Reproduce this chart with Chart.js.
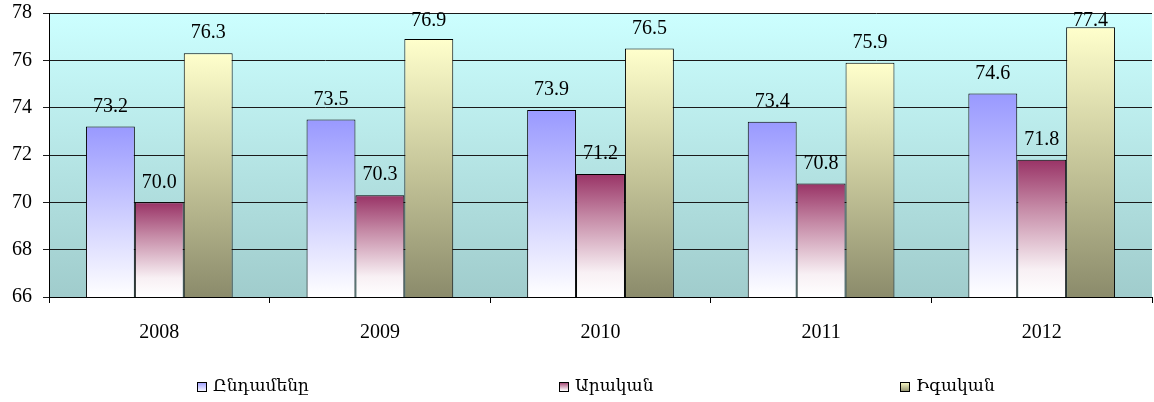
<!DOCTYPE html>
<html>
<head>
<meta charset="utf-8">
<script src="https://cdn.jsdelivr.net/npm/chart.js@4"></script>
<style>
  html, body { margin: 0; padding: 0; background: #fff; }
  #wrap { width: 1154px; height: 402px; }
</style>
</head>
<body>
<div id="wrap"><canvas id="myChart" width="1154" height="402"></canvas></div>
<script>
const years = ['2008', '2009', '2010', '2011', '2012'];
const totalValues = [73.2, 73.5, 73.9, 73.4, 74.6];
const maleValues = [70.0, 70.3, 71.2, 70.8, 71.8];
const femaleValues = [76.3, 76.9, 76.5, 75.9, 77.4];
const seriesNames = ['Ընդամենը', 'Արական', 'Իգական'];
const yTicks = [66, 68, 70, 72, 74, 76, 78];

const serif = "'Liberation Serif', 'Times New Roman', serif";
const armFont = "'Liberation Serif', 'DejaVu Serif', serif";

// top -> bottom colour stops for each series
const stops = [
    [[0, '#9999ff'], [1, '#ffffff']],
    [[0, '#993366'], [0.35, '#c58aa6'], [0.8, '#f8f0f4'], [1, '#ffffff']],
    [[0, '#ffffcc'], [0.5, '#c6c69a'], [1, '#8b8b6b']],
];

function barGradient(i) {
    return function (ctx) {
        const chart = ctx.chart;
        if (!chart.chartArea || ctx.raw === undefined) return stops[i][0][1];
        const ys = chart.scales.y;
        const t = ys.getPixelForValue(ctx.raw);
        const b = ys.getPixelForValue(ys.min);
        const g = chart.ctx.createLinearGradient(0, t, 0, b);
        stops[i].forEach(s => g.addColorStop(s[0], s[1]));
        return g;
    };
}

const plotBackground = {
    id: 'plotBackground',
    beforeDraw(chart) {
        const a = chart.chartArea;
        const c = chart.ctx;
        const g = c.createLinearGradient(0, a.top, 0, a.bottom);
        g.addColorStop(0, '#ccffff');
        g.addColorStop(1, '#a0cccc');
        c.save();
        c.fillStyle = g;
        c.fillRect(a.left, a.top, a.right - a.left, a.bottom - a.top);
        c.restore();
    }
};

const valueLabels = {
    id: 'valueLabels',
    afterDatasetsDraw(chart) {
        const c = chart.ctx;
        const a = chart.chartArea;
        c.save();
        c.font = '20px ' + serif;
        c.fillStyle = '#000';
        c.textAlign = 'center';
        c.textBaseline = 'middle';
        chart.data.datasets.forEach((ds, i) => {
            chart.getDatasetMeta(i).data.forEach((bar, j) => {
                const y = Math.max(bar.y - 20, a.top + 8);
                c.fillText(ds.data[j].toFixed(1), bar.x, y);
            });
        });
        c.restore();
    }
};

const bottomLegend = {
    id: 'bottomLegend',
    afterDraw(chart) {
        const c = chart.ctx;
        const xs = [197, 559, 900];
        const y = 387;
        c.save();
        c.font = '17px ' + armFont;
        c.textBaseline = 'middle';
        c.textAlign = 'left';
        chart.data.datasets.forEach((ds, i) => {
            const x = xs[i];
            const g = c.createLinearGradient(0, y - 5, 0, y + 5);
            stops[i].forEach(s => g.addColorStop(s[0], s[1]));
            c.fillStyle = g;
            c.fillRect(x, y - 5, 10, 10);
            c.strokeStyle = '#000';
            c.lineWidth = 1;
            c.strokeRect(x + 0.5, y - 4.5, 9, 9);
            c.fillStyle = '#000';
            c.fillText(ds.label, x + 16, y);
        });
        c.restore();
    }
};

const data = {
    labels: years,
    datasets: [
        { label: seriesNames[0], data: totalValues, backgroundColor: barGradient(0) },
        { label: seriesNames[1], data: maleValues, backgroundColor: barGradient(1) },
        { label: seriesNames[2], data: femaleValues, backgroundColor: barGradient(2) },
    ].map(d => Object.assign(d, {
        borderColor: '#000',
        borderWidth: 1,
        borderSkipped: false,
        barPercentage: 1,
        categoryPercentage: 0.665,
    }))
};

const config = {
    type: 'bar',
    data: data,
    options: {
        responsive: false,
        animation: false,
        layout: { padding: { top: 13, right: 2, left: 0, bottom: 0 } },
        plugins: {
            legend: { display: false },
            tooltip: { enabled: false },
        },
        scales: {
            x: {
                afterFit: s => { s.height = 105; s.paddingLeft = 0; s.paddingRight = 0; },
                grid: { offset: true, drawOnChartArea: false, tickLength: 6, color: '#000' },
                border: { color: '#000' },
                ticks: { color: '#000', font: { family: serif, size: 20 }, padding: 18 },
            },
            y: {
                min: yTicks[0],
                max: yTicks[yTicks.length - 1],
                afterFit: s => { s.width = 49; s.paddingTop = 0; s.paddingBottom = 0; },
                afterBuildTicks: s => { s.ticks = yTicks.map(v => ({ value: v })); },
                grid: { color: '#1a1a1a', tickLength: 6 },
                border: { color: '#000' },
                ticks: { color: '#000', font: { family: serif, size: 20 }, padding: 11 },
            }
        }
    },
    plugins: [plotBackground, valueLabels, bottomLegend]
};

const myChart = new Chart(document.getElementById('myChart'), config);
</script>
</body>
</html>
